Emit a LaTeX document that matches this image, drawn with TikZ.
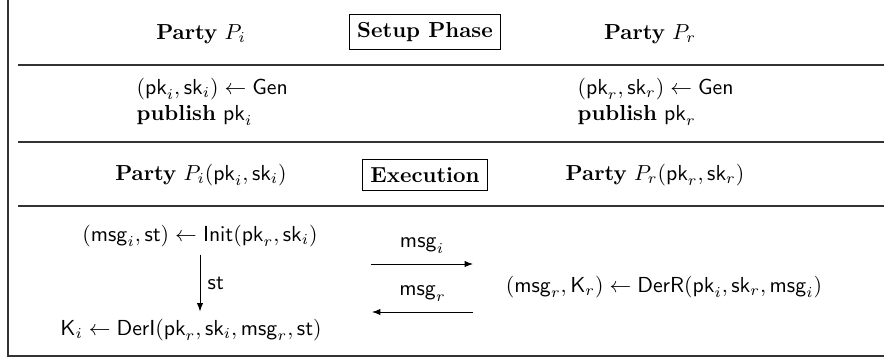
\documentclass[tikz,border=0pt]{standalone}
\usepackage{amsmath}
\usetikzlibrary{positioning}
\usetikzlibrary{arrows.meta}

\begin{document}
\begin{tikzpicture}[%
  >={Latex[scale=0.8]},
  x=0.46pt, y=-0.46pt,
  rule/.style={line width=0.8pt, black!80},
  phase/.style={draw, line width=0.6pt, font=\bfseries, inner sep=3.6pt},
  algo/.style={align=left, anchor=west}
]

  \useasboundingbox (0,0) rectangle (884,358);

  % frame and separating rules
  \draw[rule] (8,0) -- (8,356) -- (884,356);
  \draw[rule] (18,65) -- (884,65);
  \draw[rule] (18,142) -- (884,142);
  \draw[rule] (18,206) -- (884,206);

  % setup phase
  \node (partyi) at (201,34) {\textbf{Party} $P_i$};
  \node[phase] (setup) at (425,32) {Setup Phase};
  \node (partyr) at (650,34) {\textbf{Party} $P_r$};

  \node[algo] (geni) at (129,102) {$(\mathsf{pk}_i,\mathsf{sk}_i) \leftarrow \mathsf{Gen}$\\
    \textbf{publish} $\mathsf{pk}_i$};
  \node[algo] (genr) at (570,102) {$(\mathsf{pk}_r,\mathsf{sk}_r) \leftarrow \mathsf{Gen}$\\
    \textbf{publish} $\mathsf{pk}_r$};

  % execution
  \node (execi) at (201,175) {\textbf{Party} $P_i(\mathsf{pk}_i,\mathsf{sk}_i)$};
  \node[phase] (exec) at (425,175) {Execution};
  \node (execr) at (655,175) {\textbf{Party} $P_r(\mathsf{pk}_r,\mathsf{sk}_r)$};

  \node (init) at (200,236) {$(\mathsf{msg}_i,\mathsf{st}) \leftarrow \mathsf{Init}(\mathsf{pk}_r,\mathsf{sk}_i)$};
  \node (deri) at (191,330) {$\mathsf{K}_i \leftarrow \mathsf{DerI}(\mathsf{pk}_r,\mathsf{sk}_i,\mathsf{msg}_r,\mathsf{st})$};
  \node (derr) at (664,287) {$(\mathsf{msg}_r,\mathsf{K}_r) \leftarrow \mathsf{DerR}(\mathsf{pk}_i,\mathsf{sk}_r,\mathsf{msg}_i)$};

  \draw[->] (init.south) -- (init.south |- deri.north)
    node[midway, right] {$\mathsf{st}$};

  \coordinate (sendl) at (371,264);
  \coordinate (sendr) at (473,264);
  \coordinate (recvl) at (372,312);
  \coordinate (recvr) at (473,312);

  \draw[->] (sendl) -- node[above, yshift=1.5pt] {$\mathsf{msg}_i$} (sendr);
  \draw[->] (recvr) -- node[above, yshift=1.5pt] {$\mathsf{msg}_r$} (recvl);

\end{tikzpicture}
\end{document}
